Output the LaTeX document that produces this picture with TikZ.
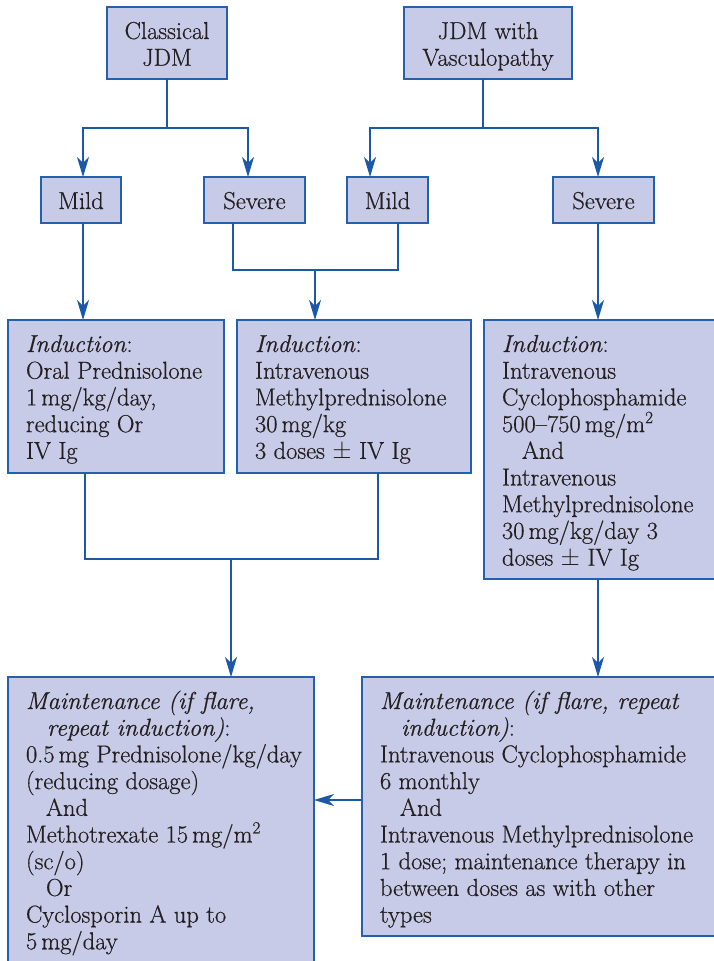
\documentclass[tikz,border=0pt]{standalone}
\usepackage{fontspec}
\setmainfont{Latin Modern Roman}[FakeBold=0.6]
\usetikzlibrary{arrows.meta}
\definecolor{boxfill}{RGB}{200,203,231}
\definecolor{boxline}{RGB}{36,96,172}
\definecolor{arrline}{RGB}{28,88,168}
\definecolor{txt}{RGB}{35,31,32}
\newcommand{\bxl}[3]{\parbox[t][#2][t]{#1}{\fontsize{24.5}{26.7}\selectfont\raggedright\leftskip=18pt\rightskip=0pt plus 1fil\rule{0pt}{32pt}#3}}
\newcommand{\bxc}[3]{\parbox[t][#2][t]{#1}{\fontsize{24.5}{26.7}\selectfont\centering\rule{0pt}{32pt}#3}}
\tikzset{
  box/.style={draw=boxline, line width=1.4pt, fill=boxfill, inner sep=0pt, outer sep=0pt, anchor=north west, text=txt},
  ln/.style={draw=arrline, line width=1.3pt},
  ar/.style={ln, -{Stealth[length=20pt,width=12pt,inset=6pt]}}
}
\begin{document}
\begin{tikzpicture}[x=1pt,y=-1pt]
\path[use as bounding box] (0,0) rectangle (713,961);
% top row
\node[box] (cls) at (107,7) {\bxc{120pt}{72pt}{Classical\\JDM}};
\node[box] (vas) at (404,7) {\bxc{168pt}{72pt}{JDM with\\Vasculopathy}};
% second row
\node[box] (mild1) at (41,177) {\bxc{80pt}{46pt}{Mild}};
\node[box] (sev1) at (204,177) {\bxc{101pt}{46pt}{Severe}};
\node[box] (mild2) at (347,177) {\bxc{81pt}{46pt}{Mild}};
\node[box] (sev2) at (553,177) {\bxc{101pt}{46pt}{Severe}};
% induction row
\node[box] (ind1) at (8,320) {\bxl{216pt}{153pt}{\textit{Induction}:\\Oral Prednisolone\\1\,mg/kg/day,\\reducing Or\\IV Ig}};
\node[box] (ind2) at (237,320) {\bxl{234pt}{153pt}{\textit{Induction}:\\Intravenous\\Methylprednisolone\\30\,mg/kg\\3 doses $\pm$ IV Ig}};
\node[box] (ind3) at (484,320) {\bxl{246pt}{259pt}{\textit{Induction}:\\Intravenous\\Cyclophosphamide\\500--750\,mg/m\textsuperscript{2}\\\hspace*{20pt}And\\Intravenous\\Methylprednisolone\\30\,mg/kg/day 3\\doses $\pm$ IV Ig}};
% maintenance row
\node[box] (maint1) at (8,677) {\bxl{306pt}{300pt}{\textit{Maintenance (if flare,}\\\hspace*{21pt}\textit{repeat induction)}:\\0.5\,mg Prednisolone/kg/day\\(reducing dosage)\\\hspace*{20pt}And\\Methotrexate 15\,mg/m\textsuperscript{2}\\(sc/o)\\\hspace*{20pt}Or\\Cyclosporin A up to\\5\,mg/day}};
\node[box] (maint2) at (362,677) {\bxl{368pt}{259pt}{\textit{Maintenance (if flare, repeat}\\\hspace*{21pt}\textit{induction)}:\\Intravenous Cyclophosphamide\\6 monthly\\\hspace*{20pt}And\\Intravenous Methylprednisolone\\1 dose; maintenance therapy in\\between doses as with other\\types}};
% connectors: top
\coordinate (j1) at (cls.south |- 0,128);
\draw[ln] (cls.south) -- (j1);
\coordinate (m1n) at ([xshift=2pt]mild1.north);
\coordinate (s1n) at ([xshift=-6.5pt]sev1.north);
\draw[ar] (j1) -| (m1n);
\draw[ar] (j1) -| (s1n);
\coordinate (v0) at ([xshift=-5pt]vas.south);
\coordinate (j2) at (v0 |- 0,128);
\draw[ln] (v0) -- (j2);
\coordinate (m2n) at ([xshift=-17.5pt]mild2.north);
\coordinate (s2n) at ([xshift=-5.5pt]sev2.north);
\draw[ar] (j2) -| (m2n);
\draw[ar] (j2) -| (s2n);
% second row to induction
\coordinate (m1s) at ([xshift=2pt]mild1.south);
\draw[ar] (m1s) -- (m1s |- ind1.north);
\coordinate (s1s) at ([xshift=-21.5pt]sev1.south);
\coordinate (m2s) at ([xshift=10.5pt]mild2.south);
\draw[ln] (s1s) -- (s1s |- 0,270) -- (m2s |- 0,270) -- (m2s);
\coordinate (i2n) at ([xshift=-39pt]ind2.north);
\draw[ar] (i2n |- 0,270) -- (i2n);
\coordinate (s2s) at ([xshift=-5.5pt]sev2.south);
\draw[ar] (s2s) -- (s2s |- ind3.north);
% induction to maintenance
\coordinate (i1b) at ([xshift=-31pt]ind1.south);
\coordinate (i2b) at ([xshift=24pt]ind2.south);
\draw[ln] (i1b) -- (i1b |- 0,559) -- (i2b |- 0,559) -- (i2b);
\coordinate (mt1) at ([xshift=70pt]maint1.north);
\draw[ar] (mt1 |- 0,559) -- (mt1);
\coordinate (i3b) at ([xshift=-9pt]ind3.south);
\draw[ar] (i3b) -- (i3b |- maint2.north);
\coordinate (m2w) at (maint2.west |- 0,800);
\draw[ar] (m2w) -- (m2w -| maint1.east);
\end{tikzpicture}
\end{document}
